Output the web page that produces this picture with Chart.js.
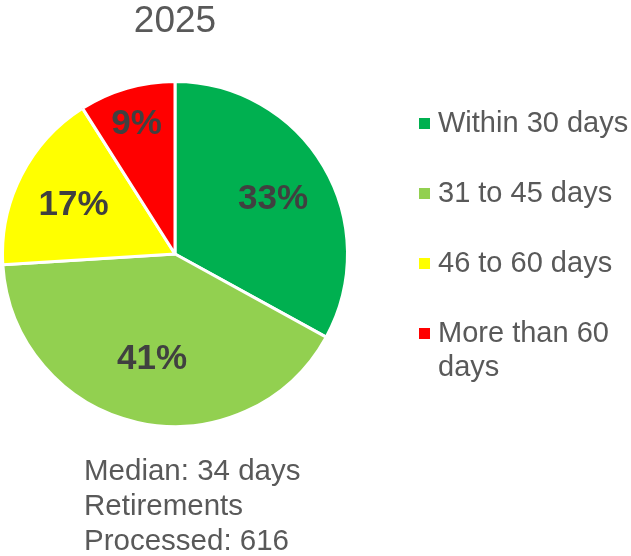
<!DOCTYPE html>
<html>
<head>
<meta charset="utf-8">
<title>2025 Retirements</title>
<script src="https://cdn.jsdelivr.net/npm/chart.js@4"></script>
<style>
    body { margin: 0; background: #ffffff; }
    #wrap { position: relative; width: 631px; height: 556px; }
</style>
</head>
<body>
<div id="wrap"><canvas id="pieChart"></canvas></div>
<script>
// Chart data
const chartTitle = '2025';
const categories = ['Within 30 days', '31 to 45 days', '46 to 60 days', 'More than 60 days'];
const shares = [33, 41, 17, 9];
const sliceColors = ['#00B050', '#92D050', '#FFFF00', '#FF0000'];
const notes = ['Median: 34 days', 'Retirements', 'Processed: 616'];

// Label placement along the radius (fraction of outer radius)
const labelRadius = [0.66, 0.61, 0.66, 0.8];
const textColor = '#595959';
const fontFamily = '"Liberation Sans", Arial, sans-serif';

// Percentage labels inside slices
const sliceLabels = {
    id: 'sliceLabels',
    afterDatasetsDraw(chart) {
        const ctx = chart.ctx;
        const meta = chart.getDatasetMeta(0);
        ctx.save();
        ctx.font = 'bold 35px ' + fontFamily;
        ctx.fillStyle = '#404040';
        ctx.textAlign = 'center';
        ctx.textBaseline = 'middle';
        meta.data.forEach((arc, i) => {
            const p = arc.getProps(['x', 'y', 'startAngle', 'endAngle', 'outerRadius'], true);
            const mid = (p.startAngle + p.endAngle) / 2;
            const r = p.outerRadius * labelRadius[i];
            ctx.fillText(shares[i] + '%', p.x + Math.cos(mid) * r, p.y + Math.sin(mid) * r + 3);
        });
        ctx.restore();
    }
};

// Legend on the right and notes under the pie
const sideText = {
    id: 'sideText',
    afterDraw(chart) {
        const ctx = chart.ctx;
        const colors = chart.data.datasets[0].backgroundColor;
        ctx.save();
        ctx.textBaseline = 'middle';
        ctx.textAlign = 'left';
        ctx.font = '29px ' + fontFamily;
        const textX = 438;
        const maxWidth = chart.width - textX + 2;
        chart.data.labels.forEach((label, i) => {
            const y = 123 + i * 70;
            ctx.fillStyle = colors[i];
            ctx.fillRect(419, y - 5, 11, 11);
            // simple word wrap
            const words = label.split(' ');
            const lines = [];
            let line = '';
            words.forEach(w => {
                const test = line ? line + ' ' + w : w;
                if (ctx.measureText(test).width > maxWidth && line) {
                    lines.push(line);
                    line = w;
                } else {
                    line = test;
                }
            });
            lines.push(line);
            ctx.fillStyle = textColor;
            lines.forEach((l, j) => ctx.fillText(l, textX, y + 1 + j * 34));
        });

        ctx.font = '29.5px ' + fontFamily;
        notes.forEach((n, i) => {
            ctx.fillText(n, 84, 472 + i * 35);
        });
        ctx.restore();
    }
};

new Chart(document.getElementById('pieChart'), {
    type: 'pie',
    data: {
        labels: categories,
        datasets: [{
            data: shares,
            backgroundColor: sliceColors,
            borderColor: '#ffffff',
            borderWidth: 3
        }]
    },
    options: {
        responsive: true,
        maintainAspectRatio: false,
        animation: false,
        layout: {
            padding: { left: 1, right: 282, top: 0, bottom: 128 }
        },
        plugins: {
            legend: { display: false },
            tooltip: { enabled: false },
            title: {
                display: true,
                text: chartTitle,
                fullSize: false,
                color: textColor,
                font: { family: fontFamily, size: 37, weight: 'normal', lineHeight: 1 },
                padding: { top: 3, bottom: 40 }
            }
        }
    },
    plugins: [sliceLabels, sideText]
});
</script>
</body>
</html>
